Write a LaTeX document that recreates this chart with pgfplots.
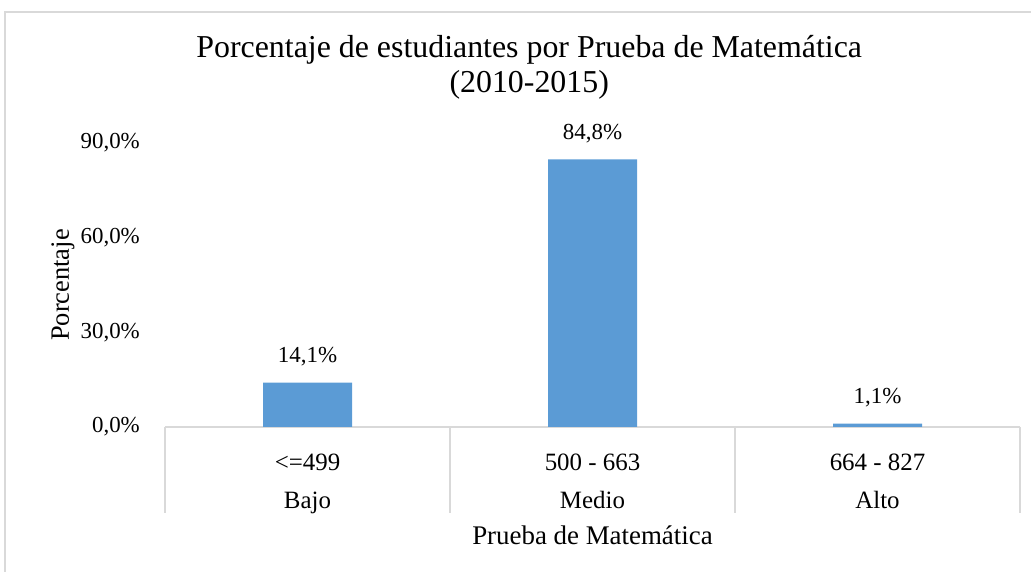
\documentclass[border=0pt]{standalone}
\usepackage{fontspec}
\setmainfont{Liberation Serif}
\usepackage{pgfplots}
\pgfplotsset{compat=1.18}
\definecolor{barblue}{HTML}{5B9BD5}
\definecolor{framegray}{HTML}{D9D9D9}
\begin{document}
\begin{tikzpicture}
\path[use as bounding box] (0,0) rectangle (1031bp,572bp);
\draw[framegray, line width=1.3bp] (5bp,0) -- (5bp,560bp) -- (1031bp,560bp);
\begin{axis}[
  at={(165bp,145bp)}, anchor=south west,
  scale only axis, width=855bp, height=284bp,
  xmin=-0.5, xmax=2.5, ymin=0, ymax=90,
  clip=false,
  ybar, bar width=89bp,
  ytick={0,30,60,90},
  yticklabels={{0,0\%},{30,0\%},{60,0\%},{90,0\%}},
  xtick={0,1,2},
  xticklabels={{<=499\\[9bp]Bajo},{500 - 663\\[9bp]Medio},{664 - 827\\[9bp]Alto}},
  major tick length=0pt,
  axis x line*=bottom, axis y line*=left,
  y axis line style={draw=none},
  x axis line style={draw=framegray, line width=1.3bp, -},
  yticklabel style={anchor=east, inner sep=0pt, xshift=-25bp, font=\fontsize{23}{28}\selectfont},
  xticklabel style={align=center, anchor=north, inner sep=0pt, yshift=-27bp, font=\fontsize{25}{29}\selectfont},
  title={Porcentaje de estudiantes por Prueba de Matemática\\(2010-2015)},
  title style={at={(axis description cs:0.426,1.2447)}, anchor=center, align=center, font=\fontsize{32}{35}\selectfont},
  ylabel={Porcentaje},
  every axis y label/.style={at={(axis description cs:-0.1193,0.5)}, rotate=90, anchor=center, font=\fontsize{26.5}{30}\selectfont},
  xlabel={Prueba de Matemática},
  every axis x label/.style={at={(axis description cs:0.5,-0.380)}, anchor=center, font=\fontsize{27}{30}\selectfont},
  point meta=explicit symbolic,
  nodes near coords,
  every node near coord/.append style={anchor=base, yshift=20bp, font=\fontsize{23}{28}\selectfont},
]
\addplot[fill=barblue, draw=none] coordinates {(0,14.1) [14,1\%] (1,84.8) [84,8\%] (2,1.1) [1,1\%]};
\draw[framegray, line width=1.3bp] (axis cs:-0.5,0) -- ([yshift=-86bp]axis cs:-0.5,0);
\draw[framegray, line width=1.3bp] (axis cs:0.5,0) -- ([yshift=-86bp]axis cs:0.5,0);
\draw[framegray, line width=1.3bp] (axis cs:1.5,0) -- ([yshift=-86bp]axis cs:1.5,0);
\draw[framegray, line width=1.3bp] (axis cs:2.5,0) -- ([yshift=-86bp]axis cs:2.5,0);
\end{axis}
\end{tikzpicture}
\end{document}
